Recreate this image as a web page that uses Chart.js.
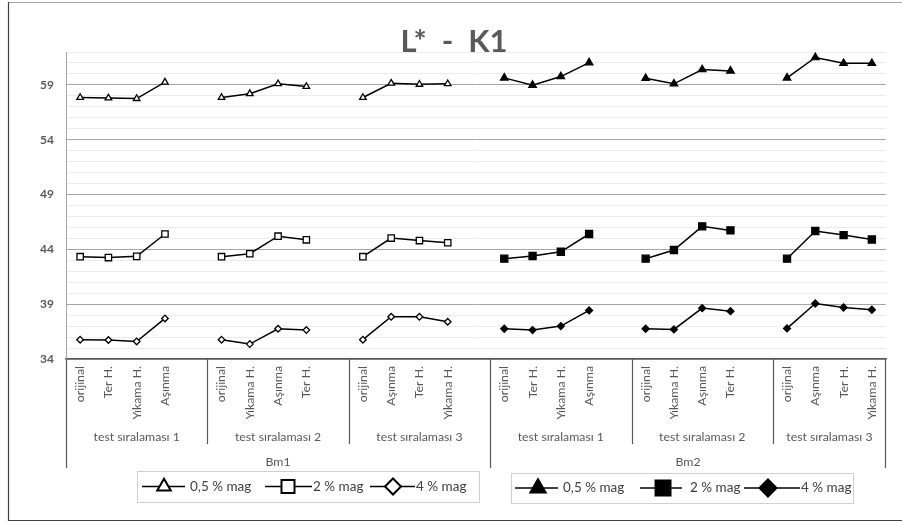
<!DOCTYPE html>
<html><head><meta charset="utf-8">
<script src="https://cdn.jsdelivr.net/npm/chart.js@4"></script>
<style>html,body{margin:0;padding:0;background:#fff}#wrap{width:902px;height:526px;position:relative}</style>
</head><body><div id="wrap"><canvas id="c" width="902" height="526"></canvas></div>
<script>
// ---- data ----
const chartTitle = 'L*  -  K1';
const bmGroups = ['Bm1', 'Bm2'];
const testGroups = ['test sıralaması 1', 'test sıralaması 2', 'test sıralaması 3'];
const groupCategories = [
  ['orijinal', 'Ter H.', 'Yıkama H.', 'Aşınma'],
  ['orijinal', 'Yıkama H.', 'Aşınma', 'Ter H.'],
  ['orijinal', 'Aşınma', 'Ter H.', 'Yıkama H.']
];
const seriesNames = ['0,5 % mag', '2 % mag', '4 % mag'];
const yTickLabels = [34, 39, 44, 49, 54, 59];
// values per series, 3 test groups x 4 categories
const bm1_05 = [57.85, 57.8, 57.75, 59.25, 57.85, 58.2, 59.1, 58.85, 57.85, 59.15, 59.05, 59.1];
const bm1_2  = [43.33, 43.25, 43.36, 45.4, 43.33, 43.6, 45.2, 44.87, 43.33, 45.03, 44.8, 44.6];
const bm1_4  = [35.76, 35.73, 35.6, 37.7, 35.76, 35.36, 36.76, 36.64, 35.76, 37.85, 37.85, 37.4];
const bm2_05 = [59.64, 58.97, 59.76, 61.03, 59.6, 59.1, 60.4, 60.27, 59.64, 61.5, 60.97, 60.97];
const bm2_2  = [43.15, 43.39, 43.78, 45.4, 43.15, 43.94, 46.1, 45.73, 43.15, 45.67, 45.3, 44.9];
const bm2_4  = [36.76, 36.64, 37.0, 38.43, 36.76, 36.7, 38.64, 38.36, 36.79, 39.06, 38.7, 38.49];

// ---- build category axis (blank slot after each group except last) ----
const labels = [];
const slotIndex = []; // slotIndex[bm][g][i]
bmGroups.forEach((bm, b) => {
  slotIndex.push([]);
  testGroups.forEach((tg, g) => {
    slotIndex[b].push([]);
    groupCategories[g].forEach((cat, i) => { slotIndex[b][g].push(labels.length); labels.push(cat); });
    if (!(b === bmGroups.length - 1 && g === testGroups.length - 1)) labels.push('');
  });
});
function place(values, b) {
  const arr = labels.map(() => null);
  let k = 0;
  slotIndex[b].forEach(grp => grp.forEach(idx => { arr[idx] = values[k++]; }));
  return arr;
}

const FONT = 'Lato, "Open Sans", sans-serif';
const TXT = '#595959';

function mk(label, values, b, style, radius, filled) {
  return {
    label, data: place(values, b),
    borderColor: '#000', borderWidth: 1.5,
    pointStyle: style, pointRadius: radius, pointHoverRadius: radius,
    pointBackgroundColor: filled ? '#000' : '#fff',
    pointBorderColor: '#000', pointBorderWidth: 1.3,
    spanGaps: false, tension: 0, fill: false
  };
}

const datasets = [
  mk(seriesNames[0], bm1_05, 0, 'triangle', 3.8, false),
  mk(seriesNames[1], bm1_2, 0, 'rect', 4.5, false),
  mk(seriesNames[2], bm1_4, 0, 'rectRot', 3.3, false),
  mk(seriesNames[0], bm2_05, 1, 'triangle', 4.3, true),
  mk(seriesNames[1], bm2_2, 1, 'rect', 5, true),
  mk(seriesNames[2], bm2_4, 1, 'rectRot', 3.5, true)
];

function marker(ctx, style, x, y, r, filled) {
  ctx.save();
  ctx.beginPath();
  if (style === 'triangle') {
    for (let k = 0; k < 3; k++) {
      const a = k * 2 * Math.PI / 3;
      const px = x + Math.sin(a) * r, py = y - Math.cos(a) * r;
      k ? ctx.lineTo(px, py) : ctx.moveTo(px, py);
    }
  } else if (style === 'rect') {
    const s = r * Math.SQRT1_2;
    ctx.rect(x - s, y - s, 2 * s, 2 * s);
  } else {
    ctx.moveTo(x - r, y); ctx.lineTo(x, y - r); ctx.lineTo(x + r, y); ctx.lineTo(x, y + r);
  }
  ctx.closePath();
  ctx.fillStyle = filled ? '#000' : '#fff';
  ctx.fill();
  ctx.lineWidth = 2;
  ctx.strokeStyle = '#000';
  ctx.stroke();
  ctx.restore();
}

const decor = {
  id: 'decor',
  afterDraw(chart) {
    const ctx = chart.ctx;
    const xs = chart.scales.x;
    const left = xs.left, right = xs.right, axisY = xs.top;
    const n = labels.length;
    const slot = (right - left) / n;
    ctx.save();
    // outer border
    ctx.strokeStyle = '#a6a6a6'; ctx.lineWidth = 1;
    ctx.beginPath(); ctx.moveTo(8, 2.5); ctx.lineTo(902, 2.5); ctx.stroke();
    ctx.strokeStyle = '#404040'; ctx.lineWidth = 1.2;
    ctx.beginPath(); ctx.moveTo(8.5, 2); ctx.lineTo(8.5, 520.5); ctx.lineTo(902, 520.5); ctx.stroke();
    // title
    ctx.fillStyle = TXT;
    ctx.font = 'bold 31px ' + FONT;
    ctx.textAlign = 'center'; ctx.textBaseline = 'alphabetic';
    ctx.fillText(chartTitle, 454, 52);
    // separators
    ctx.strokeStyle = '#595959'; ctx.lineWidth = 1.2;
    let start = 0;
    bmGroups.forEach((bm, b) => {
      const bStart = start;
      testGroups.forEach((tg, g) => {
        const gStart = start;
        const last = (b === bmGroups.length - 1 && g === testGroups.length - 1);
        const end = last ? n : start + 5;
        const x0 = left + gStart * slot, x1 = left + end * slot;
        ctx.fillStyle = TXT; ctx.font = '12.3px ' + FONT;
        ctx.textAlign = 'center'; ctx.textBaseline = 'middle';
        ctx.fillText(tg, (x0 + x1) / 2, 437);
        if (g > 0) { ctx.beginPath(); ctx.moveTo(Math.round(x0) + 0.5, axisY); ctx.lineTo(Math.round(x0) + 0.5, 444); ctx.stroke(); }
        start = end;
      });
      const bx0 = left + bStart * slot, bx1 = left + start * slot;
      ctx.fillStyle = TXT; ctx.font = '12.3px ' + FONT;
      ctx.fillText(bm, (bx0 + bx1) / 2, 462);
      ctx.beginPath(); ctx.moveTo(Math.round(bx0) + 0.5, axisY); ctx.lineTo(Math.round(bx0) + 0.5, 468); ctx.stroke();
      if (b === bmGroups.length - 1) { ctx.beginPath(); ctx.moveTo(Math.round(bx1) - 0.5, axisY); ctx.lineTo(Math.round(bx1) - 0.5, 468); ctx.stroke(); }
    });
    // legends
    const legends = [
      { box: [137, 471, 342, 31], filled: false, items: [[142, 185, 164, 190], [265, 312, 288, 313], [370, 415, 393, 416]], r: [7.8, 9.2, 8] },
      { box: [511, 473, 342, 30], filled: true, items: [[515, 558, 538, 563], [640, 682, 663, 690], [744, 800, 768, 801]], r: [8.8, 10.6, 8.5] }
    ];
    const styles = ['triangle', 'rect', 'rectRot'];
    legends.forEach(L => {
      ctx.strokeStyle = '#d0d0d0'; ctx.lineWidth = 1;
      ctx.strokeRect(L.box[0] + 0.5, L.box[1] + 0.5, L.box[2], L.box[3]);
      const cy = L.box[1] + L.box[3] / 2;
      L.items.forEach((it, k) => {
        ctx.strokeStyle = '#000'; ctx.lineWidth = 1.5;
        ctx.beginPath(); ctx.moveTo(it[0], cy); ctx.lineTo(it[1], cy); ctx.stroke();
        marker(ctx, styles[k], it[2], cy, L.r[k], L.filled);
        ctx.fillStyle = '#404040'; ctx.font = '13.5px ' + FONT;
        ctx.textAlign = 'left'; ctx.textBaseline = 'middle';
        ctx.fillText(seriesNames[k], it[3], cy);
      });
    });
    ctx.restore();
  }
};

new Chart(document.getElementById('c'), {
  type: 'line',
  data: { labels, datasets },
  options: {
    responsive: false, animation: false, devicePixelRatio: 1,
    layout: { padding: { left: 0, right: 16, top: 52, bottom: 47 } },
    plugins: { legend: { display: false }, title: { display: false }, tooltip: { enabled: false } },
    scales: {
      x: {
        type: 'category', offset: true,
        grid: { display: false, drawTicks: false },
        border: { display: true, color: '#595959', width: 1.5 },
        ticks: { autoSkip: false, minRotation: 90, maxRotation: 90, padding: 7, color: TXT, font: { family: FONT, size: 12.3 } },
        afterFit(s) { s.height = 120; }
      },
      y: {
        min: 34, max: 62,
        grid: {
          drawTicks: false,
          color: c => (yTickLabels.includes(c.tick.value) ? '#a6a6a6' : '#ebebeb'),
          lineWidth: 1
        },
        border: { display: true, color: '#a6a6a6', width: 1 },
        ticks: {
          stepSize: 1, autoSkip: false, padding: 12, color: TXT,
          font: { family: FONT, size: 12, weight: 'bold' },
          callback: v => (yTickLabels.includes(v) ? String(v) : '')
        },
        afterFit(s) { s.width = 66; }
      }
    }
  },
  plugins: [decor]
});
</script>
</body></html>
